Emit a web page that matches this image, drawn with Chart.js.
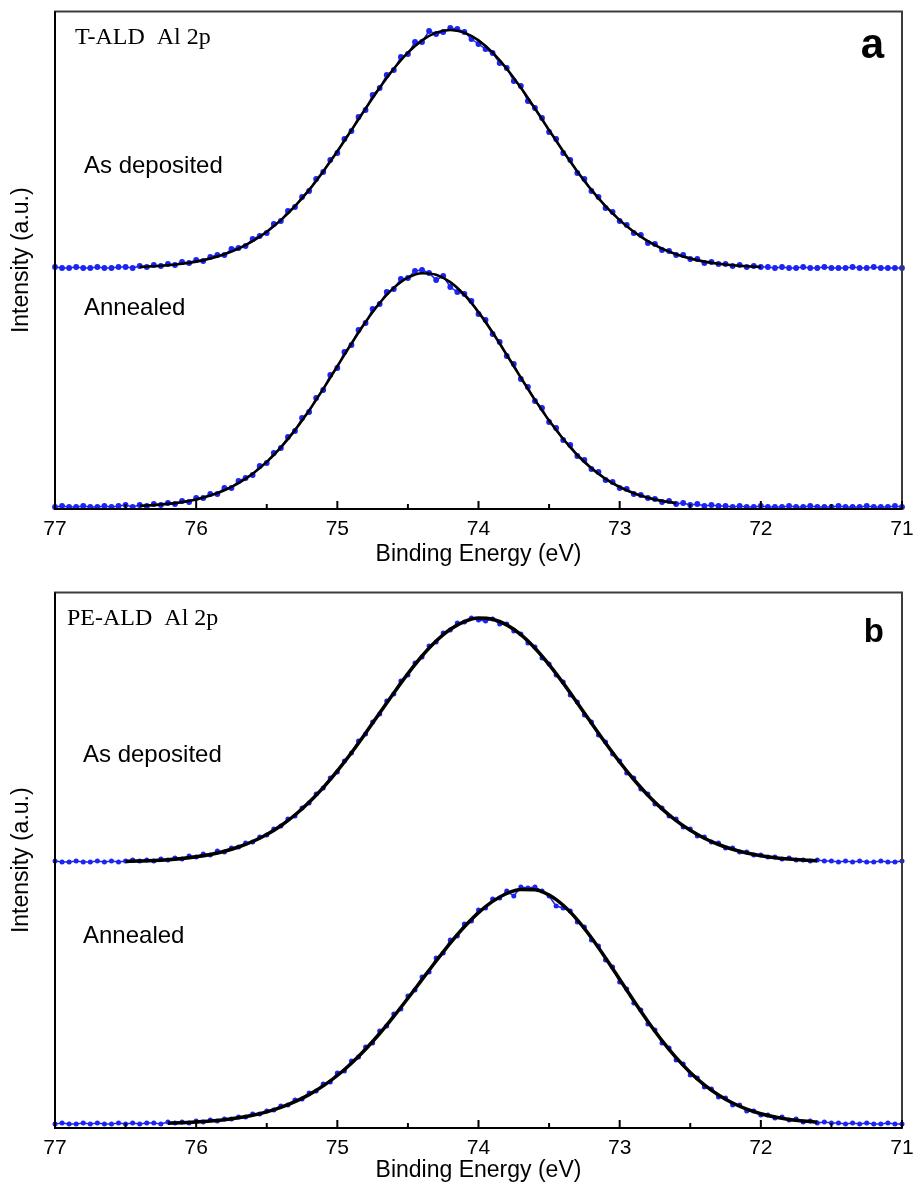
<!DOCTYPE html>
<html>
<head>
<meta charset="utf-8">
<script src="https://cdn.jsdelivr.net/npm/chart.js@4.4.0/dist/chart.umd.min.js"></script>
<style>
  body { margin: 0; background: #fff; }
  canvas { position: absolute; left: 0; }
</style>
</head>
<body>
<canvas id="panelA" width="915" height="575" style="top:0px"></canvas>
<canvas id="panelB" width="915" height="609" style="top:575px"></canvas>
<script>
// Al 2p spectra, binding energy scan 77 -> 71 eV, 0.05 eV steps (121 points)
const scanStart = 77, scanStep = 0.05, scanCount = 121;

// T-ALD, as deposited (offset trace)
const tAsDep = [
  242,241,241,242,241,241,242,241,241,242,
  242,241,243,242,244,243,245,244,247,246,
  249,248,252,254,254,260,261,263,270,273,
  276,285,288,298,302,312,318,330,337,349,
  356,370,378,392,399,414,421,434,439,452,
  455,467,467,478,475,477,481,480,477,470,
  465,460,456,446,441,428,423,408,401,391,
  377,370,356,349,336,330,318,312,301,297,
  288,284,276,274,266,265,259,258,254,254,
  250,250,246,247,245,245,243,244,242,243,
  242,242,241,242,241,241,242,241,241,242,
  241,241,241,242,241,241,242,241,241,241,
  241
];
// T-ALD, annealed
const tAnneal = [
  2,3,2,2,3,2,2,3,2,3,
  4,2,4,3,5,4,6,5,8,7,
  11,11,15,15,21,21,28,31,34,43,
  46,56,61,72,78,91,97,111,119,134,
  141,157,164,179,186,200,205,217,220,230,
  231,238,239,236,229,233,222,217,215,208,
  195,189,175,167,153,145,130,122,108,101,
  87,81,69,64,53,49,40,37,29,27,
  21,20,15,14,11,10,7,8,5,6,
  4,5,3,4,3,3,2,3,2,2,
  3,2,2,2,3,2,2,3,2,2,
  2,3,2,2,2,3,2,2,2,3,
  2
];
// PE-ALD, as deposited (offset trace)
const peAsDep = [
  267,266,266,267,266,266,267,266,267,266,
  267,268,267,268,267,269,268,270,269,272,
  271,274,273,277,276,280,281,285,286,291,
  293,299,302,309,312,320,325,334,340,350,
  356,367,375,387,394,406,414,427,434,447,
  453,465,471,482,486,495,498,505,506,510,
  508,507,509,504,504,497,494,485,481,470,
  464,453,446,433,426,413,406,393,386,374,
  367,355,350,339,334,324,320,312,309,301,
  299,292,291,286,285,280,280,276,276,273,
  273,271,271,269,270,268,268,267,268,267,
  267,266,267,266,267,266,266,267,266,266,
  267
];
// PE-ALD, annealed
const peAnneal = [
  4,5,4,4,5,4,5,4,4,5,
  4,5,4,5,5,4,6,5,6,5,
  7,6,8,7,9,9,11,11,14,14,
  17,18,22,23,28,29,35,37,44,46,
  55,57,67,71,81,85,97,102,114,119,
  132,138,151,156,170,175,188,192,204,207,
  218,220,229,230,237,232,241,240,241,237,
  232,222,220,217,206,201,188,182,168,161,
  146,139,125,118,104,98,85,80,68,64,
  53,50,41,39,31,30,23,23,17,17,
  13,13,10,11,8,9,6,7,5,6,
  5,5,4,5,4,5,4,4,5,4,
  4
];

// fitted envelopes, 0.1 eV steps from the given start energy
const fitStep = 0.1;
const tAsDepFitStart = 76.4;
const tAsDepFit = [
  242.1,242.8,243.8,245.3,247.4,250.5,254.8,260.4,267.8,277.2,
  288.9,302.8,319.1,337.6,357.7,378.9,400.4,421.2,440.2,456.3,
  468.6,476.4,479.0,476.4,468.6,456.3,440.2,421.2,400.4,378.9,
  357.7,337.6,319.1,302.8,288.9,277.2,267.8,260.4,254.8,250.5,
  247.4,245.3,243.8,242.8,242.1
];
const tAnnealFitStart = 76.4;
const tAnnealFit = [
  3.1,3.9,5.1,6.9,9.5,13.4,18.7,25.8,35.2,47.1,
  61.7,78.9,98.5,120.1,142.8,165.5,187.0,206.0,221.1,231.3,
  235.8,234.3,226.9,214.1,196.9,176.5,154.2,131.4,109.1,88.4,
  70.0,54.0,40.8,30.2,22.0,15.8,11.3,8.1,5.9
];
const peAsDepFitStart = 76.5;
const peAsDepFit = [
  266.6,267.0,267.5,268.3,269.5,271.2,273.5,276.7,281.0,286.5,
  293.5,302.3,313.0,325.7,340.4,357.1,375.3,394.8,415.0,435.1,
  454.4,472.0,487.0,498.7,506.4,509.9,508.7,503.1,493.3,479.8,
  463.4,444.9,425.1,404.9,385.0,366.0,348.5,332.8,319.1,307.4,
  297.7,289.8,283.5,278.7,275.0,272.3,270.3,268.9,267.9,267.2
];
const peAnnealFitStart = 76.2;
const peAnnealFit = [
  4.8,5.3,6.0,6.9,8.3,10.2,12.7,16.1,20.6,26.3,
  33.4,42.1,52.5,64.8,78.8,94.5,111.6,129.7,148.4,167.0,
  184.9,201.2,215.4,226.6,234.5,238.5,238.3,233.0,222.7,208.2,
  190.3,170.1,148.7,127.2,106.5,87.4,70.3,55.5,43.1,33.0,
  25.0,18.9,14.3,11.0,8.6,7.0,5.9
];

const energyTicks = [77, 76, 75, 74, 73, 72, 71];

const SANS = '"Liberation Sans", Arial, sans-serif';
const NARROW = '"Liberation Sans Narrow", "Arial Narrow", "Liberation Sans", sans-serif';
const SERIF = '"Liberation Serif", "Times New Roman", serif';
const BLUE = '#1b24f2';

Chart.defaults.color = '#000';

// pair each intensity with its energy
function toPoints(start, step, values) {
  return values.map((v, i) => ({ x: +(start - i * step).toFixed(2), y: v }));
}

function scanSet(values, radius) {
  return {
    data: toPoints(scanStart, scanStep, values).slice(0, scanCount),
    showLine: true,
    borderColor: BLUE,
    borderWidth: 1.5,
    pointRadius: radius,
    pointBackgroundColor: BLUE,
    pointBorderWidth: 0,
    clip: false,
    order: 2
  };
}

function fitSet(start, values, width) {
  return {
    data: toPoints(start, fitStep, values),
    showLine: true,
    borderColor: '#000',
    borderWidth: width,
    pointRadius: 0,
    cubicInterpolationMode: 'monotone',
    order: 1
  };
}

// box round the plot + inward ticks on the energy axis
const frameTicks = {
  id: 'frameTicks',
  afterDraw(chart) {
    const { ctx, chartArea: a, scales: { x } } = chart;
    ctx.save();
    ctx.lineWidth = 2;
    ctx.strokeStyle = '#3c3c3c';
    ctx.strokeRect(a.left, a.top, a.right - a.left, a.bottom - a.top);
    ctx.strokeStyle = '#000';
    ctx.beginPath();
    ctx.moveTo(a.left, a.top);
    ctx.lineTo(a.left, a.bottom);
    ctx.lineTo(a.right, a.bottom);
    ctx.stroke();
    for (let i = 0; i <= 12; i++) {
      const e = 71 + i / 2;
      const px = x.getPixelForValue(e);
      const len = i % 2 === 0 ? 8 : 5;
      ctx.beginPath();
      ctx.moveTo(px, a.bottom);
      ctx.lineTo(px, a.bottom - len);
      ctx.stroke();
    }
    ctx.restore();
  }
};

// panel captions
const panelText = {
  id: 'panelText',
  afterDraw(chart, args, opts) {
    const { ctx, chartArea: a } = chart;
    ctx.save();
    ctx.fillStyle = '#000';
    ctx.textBaseline = 'alphabetic';
    (opts.items || []).forEach(t => {
      ctx.font = t.font;
      ctx.textAlign = t.align || 'left';
      const x = t.align === 'right' ? a.right + t.dx : a.left + t.dx;
      ctx.fillText(t.text, x, a.top + t.dy);
    });
    ctx.restore();
  }
};

function panelOptions(yMax, padTop, axisHeight, titlePad, items) {
  return {
    responsive: false,
    animation: false,
    layout: { padding: { top: padTop, right: 13, left: 0, bottom: 0 } },
    plugins: {
      legend: { display: false },
      tooltip: { enabled: false },
      panelText: { items: items }
    },
    scales: {
      x: {
        type: 'linear',
        reverse: true,
        min: 71,
        max: 77,
        grid: { display: false, drawTicks: false },
        border: { display: false },
        afterBuildTicks: s => { s.ticks = energyTicks.map(v => ({ value: v })); },
        ticks: { padding: 8, color: '#000', font: { family: NARROW, size: 21 } },
        title: {
          display: true,
          text: 'Binding Energy (eV)',
          color: '#000',
          font: { family: SANS, size: 23 },
          padding: { top: 0, bottom: titlePad }
        },
        afterFit: s => {
          s.height = axisHeight;
          s.paddingLeft = 0;
          s.paddingRight = 0;
        }
      },
      y: {
        min: 0,
        max: yMax,
        grid: { display: false, drawTicks: false },
        border: { display: false },
        ticks: { display: false },
        title: {
          display: true,
          text: 'Intensity (a.u.)',
          color: '#000',
          font: { family: SANS, size: 23 },
          padding: { top: 8, bottom: 0 }
        },
        afterFit: s => { s.width = 55; }
      }
    }
  };
}

new Chart(document.getElementById('panelA'), {
  type: 'scatter',
  data: {
    datasets: [
      scanSet(tAsDep, 2.9),
      scanSet(tAnneal, 2.9),
      fitSet(tAsDepFitStart, tAsDepFit, 2.6),
      fitSet(tAnnealFitStart, tAnnealFit, 2.6)
    ]
  },
  options: panelOptions(497.5, 11.5, 66, 7, [
    { text: 'T-ALD  Al 2p', dx: 20, dy: 32.5, font: '24px ' + SERIF },
    { text: 'As deposited', dx: 29, dy: 161, font: '24px ' + SANS },
    { text: 'Annealed', dx: 29, dy: 303, font: '24px ' + SANS },
    { text: 'a', dx: -18, dy: 46.5, align: 'right', font: 'bold 42px ' + SANS }
  ]),
  plugins: [frameTicks, panelText]
});

new Chart(document.getElementById('panelB'), {
  type: 'scatter',
  data: {
    datasets: [
      scanSet(peAsDep, 2.5),
      scanSet(peAnneal, 2.5),
      fitSet(peAsDepFitStart, peAsDepFit, 3.5),
      fitSet(peAnnealFitStart, peAnnealFit, 3.5)
    ]
  },
  options: panelOptions(535.5, 17.5, 56, 0, [
    { text: 'PE-ALD  Al 2p', dx: 12, dy: 32.5, font: '24px ' + SERIF },
    { text: 'As deposited', dx: 28, dy: 169, font: '24px ' + SANS },
    { text: 'Annealed', dx: 28, dy: 350, font: '24px ' + SANS },
    { text: 'b', dx: -18, dy: 49.5, align: 'right', font: 'bold 33px ' + SANS }
  ]),
  plugins: [frameTicks, panelText]
});
</script>
</body>
</html>
